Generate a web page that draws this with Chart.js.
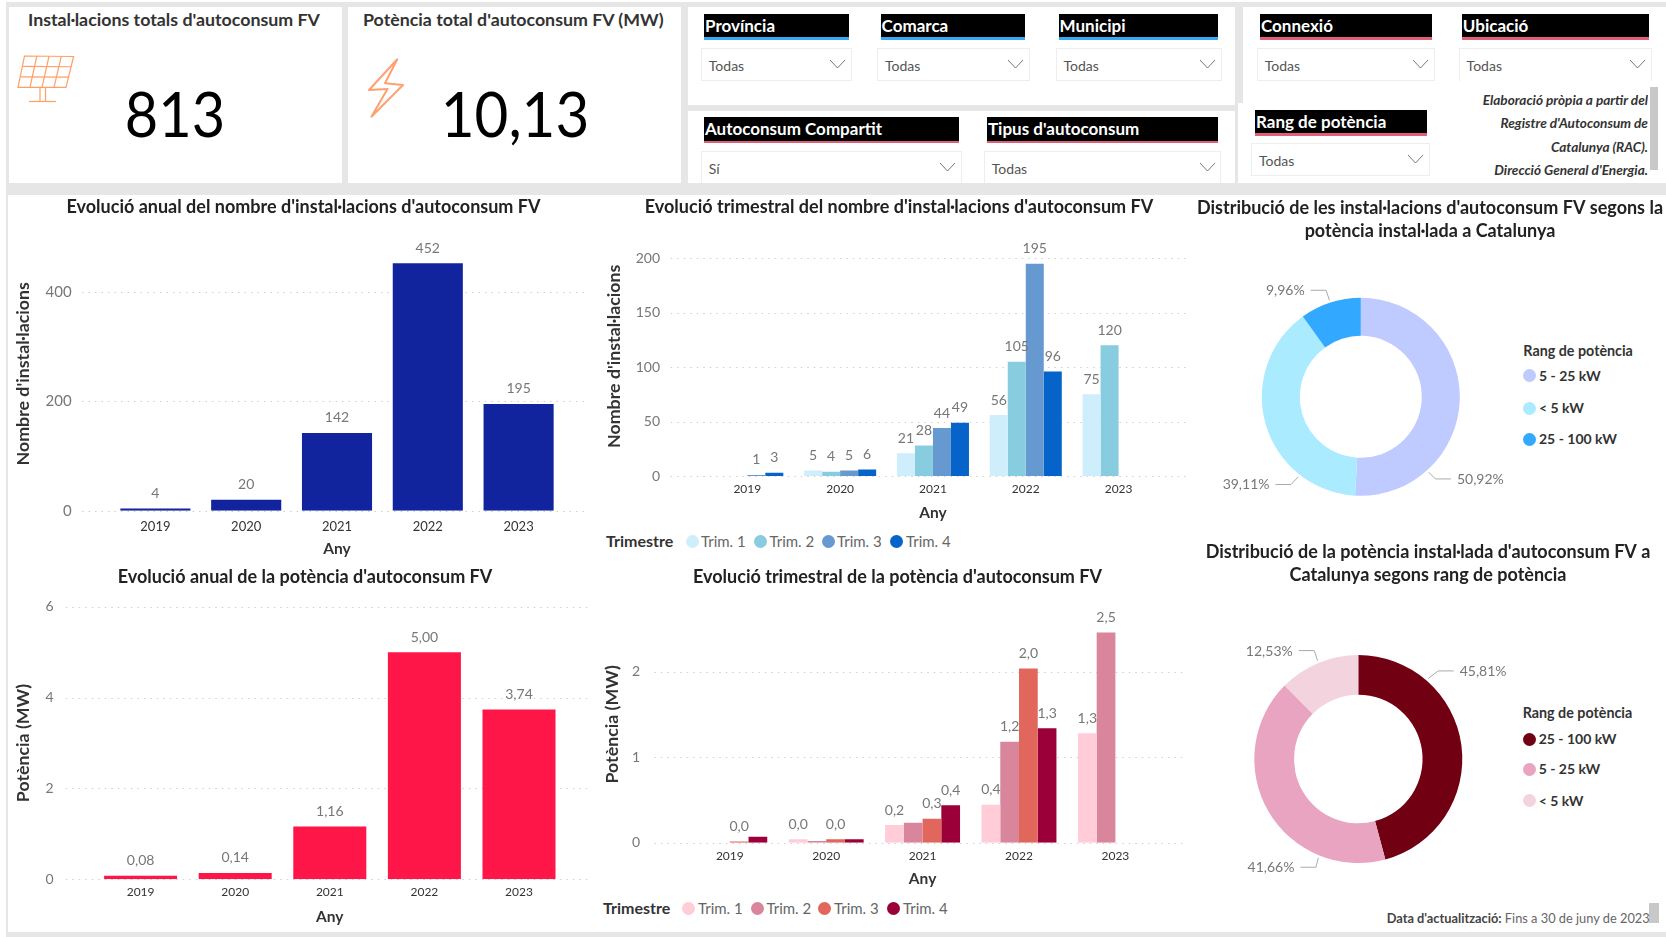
<!DOCTYPE html>
<html lang="ca">
<head>
<meta charset="utf-8">
<title>Autoconsum FV</title>
<script src="https://cdn.jsdelivr.net/npm/chart.js@4/dist/chart.umd.min.js"></script>
<style>
html,body{margin:0;padding:0;width:1666px;height:937px;overflow:hidden;background:#fff;font-family:Lato,"Open Sans",sans-serif}
.a{position:absolute}
.t{position:absolute;white-space:nowrap;line-height:1}
canvas{position:absolute}
</style>
</head>
<body>
<div id="page" class="a" style="left:0;top:0;width:1666px;height:937px"></div>
<script>
const years = ['2019','2020','2021','2022','2023'];
const annualCount = [4,20,142,452,195];
const annualPower = [0.08,0.14,1.16,5.00,3.74];
const quarters = ['Trim. 1','Trim. 2','Trim. 3','Trim. 4'];
const countQ1 = [null,5,21,56,75];
const countQ2 = [null,4,28,105,120];
const countQ3 = [1,5,44,195,null];
const countQ4 = [3,6,49,96,null];
const powerQ1 = [null,0.04,0.207,0.445,1.28];
const powerQ2 = [null,0.02,0.234,1.18,2.46];
const powerQ3 = [0.015,0.04,0.28,2.04,null];
const powerQ4 = [0.07,0.04,0.437,1.34,null];
const powerLabelQ1 = [false,true,true,true,true];
const powerLabelQ2 = [false,false,false,true,true];
const powerLabelQ3 = [true,true,true,true,false];
const powerLabelQ4 = [false,false,true,true,false];
const shareCountLabels = ['5 - 25 kW','< 5 kW','25 - 100 kW'];
const shareCountValues = [50.92,39.11,9.96];
const sharePowerLabels = ['25 - 100 kW','5 - 25 kW','< 5 kW'];
const sharePowerValues = [45.81,41.66,12.53];
const slicerBlue = ['Província','Comarca','Municipi'];
const slicerPink = ['Connexió','Ubicació','Autoconsum Compartit',"Tipus d'autoconsum",'Rang de potència'];

const FONT = 'Lato, "Open Sans", sans-serif';
const page = document.getElementById('page');
function box(x,y,w,h,css){const d=document.createElement('div');d.className='a';
  d.style.cssText=`left:${x}px;top:${y}px;width:${w}px;height:${h}px;${css||''}`;page.appendChild(d);return d;}
function text(x,cy,s,css,right){const d=document.createElement('div');d.className='t';
  d.style.cssText=(right?`right:${1666-x}px;`:`left:${x}px;`)+`top:${cy}px;transform:translateY(-50%);${css||''}`;
  d.textContent=s;page.appendChild(d);return d;}

/* page background and panels */
box(6,2,1660,935,'background:#e6e6e6');
[[9,7,332.5,176],[348,7,333,176],[687.5,7,547.5,98],[687.5,110.7,547.5,72],[1243,7,423,96],[1238,103,428,80],[8,195,1658,737]]
  .forEach(r=>box(r[0],r[1],r[2],r[3],'background:#fff'));

/* KPI cards */
const kpiTitle='font-size:17.8px;font-weight:700;color:#333';
text(28,19.5,"Instal·lacions totals d'autoconsum FV",kpiTitle);
text(363,19.5,"Potència total d'autoconsum FV (MW)",kpiTitle);
text(174.5,113,'813','font-size:62px;color:#000;transform:translate(-50%,-50%) scaleX(.93)');
text(515,113,'10,13','font-size:62px;color:#000;transform:translate(-50%,-50%) scaleX(.94)');

/* slicers */
function slicer(name,hx,hy,hw,bar,bx,by,bw,bh,val,noBottom){
  box(hx,hy,hw,23.3,'background:#000');
  box(hx,hy+23.3,hw,2.7,'background:'+bar);
  text(hx+1,hy+11,name,'font-size:17px;font-weight:700;color:#fff');
  box(bx,by,bw,bh,'box-sizing:border-box;border:1.5px solid #eee;'+(noBottom?'border-bottom:0;':''));
  text(bx+8,by+18,val,'font-size:14px;color:#555');
  const s=document.createElementNS('http://www.w3.org/2000/svg','svg');
  s.setAttribute('class','a');s.setAttribute('width','18');s.setAttribute('height','11');
  s.style.cssText=`left:${bx+bw-23}px;top:${by+11}px`;
  s.innerHTML='<polyline points="1,1 8.5,9 16,1" fill="none" stroke="#777" stroke-width="1"/>';
  page.appendChild(s);
}
const blueBar='#3aa8f0', pinkBar='#e0607a';
slicer(slicerBlue[0],704,14,145,blueBar,700.8,48.3,151.5,32.4,'Todas');
slicer(slicerBlue[1],880.6,14,144.4,blueBar,877,48.3,152.7,32.4,'Todas');
slicer(slicerBlue[2],1058.6,14,159.4,blueBar,1055.5,48.3,166,32.4,'Todas');
slicer(slicerPink[0],1260,14,171.6,pinkBar,1256.7,48.3,178,32.4,'Todas');
slicer(slicerPink[1],1461.8,14,186.8,pinkBar,1458.6,48.3,193,32.4,'Todas',true);
slicer(slicerPink[2],704,117.3,255,pinkBar,700.8,150.7,261,32,'Sí',true);
slicer(slicerPink[3],987,117.3,230.7,pinkBar,983.8,150.7,237.7,32,'Todas',true);
slicer(slicerPink[4],1255,110,171.5,pinkBar,1251,143.3,178.7,32.7,'Todas');

/* source note */
const note=box(1440,84,208,92.5,'overflow:hidden');
["Elaboració pròpia a partir del","Registre d'Autoconsum de","Catalunya (RAC).","Direcció General d'Energia."].forEach((l,i)=>{
  const d=document.createElement('div');d.className='t';
  d.style.cssText=`right:0;top:${[17,40,64,87][i]}px;transform:translateY(-50%);font-size:13.6px;font-style:italic;font-weight:700;color:#333`;
  d.textContent=l;note.appendChild(d);
});
box(1650,86.7,8,83.3,'background:#c8c8c8');
box(1649.3,903,9.4,20,'background:#c8c8c8');

/* icons */
const icons=document.createElementNS('http://www.w3.org/2000/svg','svg');
icons.setAttribute('class','a');icons.setAttribute('width','1666');icons.setAttribute('height','200');
icons.style.cssText='left:0;top:0';
let g='<g fill="none" stroke="#ff9e66" stroke-width="1.2">';
g+='<polygon points="24.5,56 73.6,56.5 66,87.3 18,87.3"/>';
[0.25,0.5,0.75].forEach(f=>{g+=`<line x1="${24.5+49.1*f}" y1="56.2" x2="${18+48*f}" y2="87.3"/>`;});
[1/3,2/3].forEach(f=>{g+=`<line x1="${24.5-6.5*f}" y1="${56+31.3*f}" x2="${73.6-7.6*f}" y2="${56.5+30.8*f}"/>`;});
g+='<line x1="40" y1="87.3" x2="40" y2="101.5"/><line x1="45.5" y1="87.3" x2="45.5" y2="101.5"/><line x1="29" y1="101.5" x2="56" y2="101.5"/></g>';
g+='<polygon points="397.3,59.3 369,90 387.5,89 371.4,116.7 403,85 385,83.3" fill="none" stroke="#ffa070" stroke-width="2" stroke-linejoin="round"/>';
icons.innerHTML=g;page.appendChild(icons);

/* custom legends */
function quarterLegend(head,headX,cy,items){
  text(headX,cy,head,'font-size:16px;font-weight:700;color:#333');
  items.forEach(it=>{
    box(it[0]-6.5,cy-6.5,13,13,`border-radius:50%;background:${it[2]}`);
    text(it[1],cy,it[3],'font-size:15px;color:#666');
  });
}
function roundLegend(head,headX,headY,dotX,textX,ys,cols,labels){
  text(headX,headY,head,'font-size:14.3px;font-weight:700;color:#333');
  labels.forEach((l,i)=>{
    box(dotX-6.5,ys[i]-6.5,13,13,`border-radius:50%;background:${cols[i]}`);
    text(textX,ys[i],l,'font-size:14px;font-weight:700;color:#333');
  });
}
const countColors=['#cfeefb','#87cddf','#6699cf','#0563c9'];
const powerColors=['#ffccd8','#d9869c','#e1665b','#9b0039'];
const shareCountColors=['#bfcaff','#abebff','#33a8ff'];
const sharePowerColors=['#720013','#e8a4c0','#f3d4de'];
quarterLegend('Trimestre',606,541,[692,760,828,896.6].map((x,i)=>[x,[701,769.5,837,906][i],countColors[i],quarters[i]]));
quarterLegend('Trimestre',603,908.3,[688.4,757.3,824.6,893].map((x,i)=>[x,[698,766.5,834,903][i],powerColors[i],quarters[i]]));
roundLegend('Rang de potència',1523.3,350.7,1529.7,1539,[375.7,408,439],shareCountColors,shareCountLabels);
roundLegend('Rang de potència',1522.7,712.7,1529,1538.7,[739,769,800.7],sharePowerColors,sharePowerLabels);

/* footer */
const foot=text(1386.7,917.7,'','font-size:12.8px;color:#666');
foot.innerHTML="<b style='color:#444'>Data d'actualització:</b> Fins a 30 de juny de 2023";

/* plugins */
const fullTitle={id:'fullTitle',afterLayout(c){const t=c.titleBlock;if(t){t.left=0;t.right=c.width;t.width=c.width;}}};
const dottedGrid={id:'dottedGrid',beforeDatasetsDraw(c,a,o){
  if(!c.scales.y)return;const ctx=c.ctx;ctx.save();ctx.strokeStyle='#cfcfcf';ctx.lineWidth=1;ctx.setLineDash([1.5,5]);
  c.scales.y.ticks.forEach(t=>{const y=Math.round(c.scales.y.getPixelForValue(t.value))+0.5;
    ctx.beginPath();ctx.moveTo(o.from,y);ctx.lineTo(o.to,y);ctx.stroke();});
  ctx.restore();}};
const valueLabels={id:'valueLabels',afterDatasetsDraw(c,a,o){
  if(!o.format)return;const ctx=c.ctx;ctx.save();ctx.font=`${o.size||14}px ${FONT}`;ctx.fillStyle='#777';
  ctx.textAlign='center';ctx.textBaseline='middle';
  c.data.datasets.forEach((ds,di)=>{c.getDatasetMeta(di).data.forEach((el,i)=>{
    const v=ds.data[i];if(v===null||v===undefined)return;
    if(ds.labelMask&&!ds.labelMask[i])return;
    ctx.fillText(o.format(v),el.x,el.y-15);});});
  ctx.restore();}};
const leaderLabels={id:'leaderLabels',afterDatasetsDraw(c,a,o){
  if(!o.angles)return;const ctx=c.ctx;const arc=c.getDatasetMeta(0).data[0];
  const cx=arc.x,cy=arc.y,r=arc.outerRadius;ctx.save();ctx.font=`14px ${FONT}`;ctx.textBaseline='middle';
  o.angles.forEach((deg,i)=>{
    const th=deg*Math.PI/180,dx=Math.sin(th),dy=-Math.cos(th),sgn=dx>=0?1:-1;
    const x0=cx+(r+2.5)*dx,y0=cy+(r+2.5)*dy,x1=x0+(o.elbowX[i])*sgn,y1=y0+(o.elbowY[i]);
    const x2=x1+15.5*sgn;
    ctx.strokeStyle='#aaa';ctx.lineWidth=1;ctx.beginPath();ctx.moveTo(x0,y0);ctx.lineTo(x1,y1);ctx.lineTo(x2,y1);ctx.stroke();
    ctx.fillStyle='#777';ctx.textAlign=sgn>0?'left':'right';
    ctx.fillText(c.data.datasets[0].data[i].toFixed(2).replace('.',',')+'%',x2+sgn*6,y1+0.5);
  });ctx.restore();}};

const TITLE_LH=23;
function titleOpts(str,T,titleY,areaT,size){
  const lines=Array.isArray(str)?str.length:1;
  const ptop=titleY-T-TITLE_LH/2;
  return {display:true,text:str,color:'#222',font:{family:FONT,size:size||18,weight:'700',lineHeight:TITLE_LH/(size||18)},
    padding:{top:ptop,bottom:areaT-T-ptop-TITLE_LH*lines}};
}
function barChart(c){
  const cv=document.createElement('canvas');cv.width=c.W;cv.height=c.H;
  cv.style.left=c.L+'px';cv.style.top=c.T+'px';page.appendChild(cv);
  const axisLH=18;
  return new Chart(cv,{type:'bar',data:{labels:years,datasets:c.datasets},plugins:[fullTitle,dottedGrid,valueLabels],
    options:{responsive:false,animation:false,
      layout:{padding:{left:0,top:0,bottom:0,right:c.L+c.W-c.areaR}},
      plugins:{legend:{display:false},tooltip:{enabled:false},
        title:titleOpts(c.title,c.T,c.titleY,c.areaT),
        dottedGrid:{from:c.gridL-c.L,to:c.gridR-c.L},
        valueLabels:{format:c.format,size:14}},
      scales:{
        x:{grid:{display:false,drawTicks:false},border:{display:false},
          ticks:{color:'#333',autoSkip:false,maxRotation:0,padding:c.xTickPad,font:{family:FONT,size:c.xTickSize}},
          title:{display:true,text:'Any',color:'#333',font:{family:FONT,size:15.5,weight:'700',lineHeight:axisLH/15.5},
            padding:{top:0,bottom:c.T+c.H-c.anyY-axisLH/2}},
          afterFit:s=>{s.height=c.T+c.H-c.areaB;}},
        y:{min:0,max:c.max,grid:{display:false,drawTicks:false},border:{display:false},
          ticks:{color:'#777',stepSize:c.step,includeBounds:false,padding:c.areaL-c.yTickRight,
            font:{family:FONT,size:c.yTickSize},callback:v=>String(v)},
          title:{display:true,text:c.yTitle,color:'#333',font:{family:FONT,size:17.8,weight:'700',lineHeight:axisLH/17.8},
            padding:{top:c.yTitleX-c.L-axisLH/2,bottom:0}},
          afterFit:s=>{s.width=c.areaL-c.L;s.paddingTop=0;s.paddingBottom=0;}}
      }}});
}
function donut(c){
  const cv=document.createElement('canvas');cv.width=c.W;cv.height=c.H;
  cv.style.left=c.L+'px';cv.style.top=c.T+'px';page.appendChild(cv);
  return new Chart(cv,{type:'doughnut',
    data:{labels:c.labels,datasets:[{data:c.values,backgroundColor:c.colors,borderWidth:0}]},
    plugins:[fullTitle,leaderLabels],
    options:{responsive:false,animation:false,cutout:c.cutout,rotation:0,
      layout:{padding:{left:c.cx-c.r-c.L,right:c.L+c.W-c.cx-c.r,top:0,bottom:c.T+c.H-c.cy-c.r}},
      plugins:{legend:{display:false},tooltip:{enabled:false},
        title:titleOpts(c.title,c.T,c.titleY,c.cy-c.r),
        leaderLabels:{angles:c.angles,elbowX:c.elbowX,elbowY:c.elbowY}}}});
}
const solid=(d,col,w)=>({data:d,backgroundColor:col,barPercentage:w,categoryPercentage:1,borderWidth:0});
const fmt2=v=>v.toFixed(2).replace('.',',');
const fmt1=v=>v.toFixed(1).replace('.',',');

barChart({L:8,T:195,W:591,H:365,areaL:110,areaR:564,areaT:236.9,areaB:510.7,gridL:82,gridR:585,
  title:"Evolució anual del nombre d'instal·lacions d'autoconsum FV",titleY:206.7,
  datasets:[solid(annualCount,'#12239e',0.772)],format:String,max:500,step:200,
  yTitle:"Nombre d'instal·lacions",yTitleX:23.7,yTickRight:71.6,yTickSize:15,xTickPad:8,xTickSize:13,anyY:549.3});

barChart({L:600,T:195,W:598,H:365,areaL:700.9,areaR:1165,areaT:236.5,areaB:476,gridL:670.8,gridR:1191,
  title:"Evolució trimestral del nombre d'instal·lacions d'autoconsum FV",titleY:207,
  datasets:[countQ1,countQ2,countQ3,countQ4].map((d,i)=>({label:quarters[i],data:d,backgroundColor:countColors[i],barPercentage:1,categoryPercentage:0.776,borderWidth:0})),
  format:String,max:220,step:50,
  yTitle:"Nombre d'instal·lacions",yTitleX:614.5,yTickRight:660,yTickSize:14,xTickPad:6,xTickSize:12,anyY:513});

barChart({L:8,T:560,W:594,H:372,areaL:93.3,areaR:566.3,areaT:606.7,areaB:879.3,gridL:65.8,gridR:591.3,
  title:"Evolució anual de la potència d'autoconsum FV",titleY:576.7,
  datasets:[solid(annualPower,'#ff1649',0.772)],format:fmt2,max:6,step:2,
  yTitle:"Potència (MW)",yTitleX:23.7,yTickRight:53.6,yTickSize:14,xTickPad:6,xTickSize:12,anyY:916.7});

const pMasks=[powerLabelQ1,powerLabelQ2,powerLabelQ3,powerLabelQ4];
barChart({L:598,T:560,W:599,H:372,areaL:681.6,areaR:1163.6,areaT:606,areaB:842.7,gridL:654.3,gridR:1187.4,
  title:"Evolució trimestral de la potència d'autoconsum FV",titleY:576.7,
  datasets:[powerQ1,powerQ2,powerQ3,powerQ4].map((d,i)=>({label:quarters[i],data:d,labelMask:pMasks[i],backgroundColor:powerColors[i],barPercentage:1,categoryPercentage:0.777,borderWidth:0})),
  format:fmt1,max:2.77,step:1,
  yTitle:"Potència (MW)",yTitleX:612,yTickRight:640,yTickSize:14,xTickPad:6,xTickSize:12,anyY:879.3});

donut({L:1195,T:195,W:470,H:335,cx:1360.8,cy:396.8,r:99,cutout:'61.6%',
  title:["Distribució de les instal·lacions d'autoconsum FV segons la","potència instal·lada a Catalunya"],titleY:207.7,
  labels:shareCountLabels,values:shareCountValues,colors:shareCountColors,
  angles:[138,218,342],elbowX:[6.7,7.3,3.3],elbowY:[6.7,7.7,-10]});
donut({L:1195,T:540,W:466,H:360,cx:1358.3,cy:759,r:104,cutout:'61.8%',
  title:["Distribució de la potència instal·lada d'autoconsum FV a","Catalunya segons rang de potència"],titleY:551.7,
  labels:sharePowerLabels,values:sharePowerValues,colors:sharePowerColors,
  angles:[41,202,337.5],elbowX:[10,2.5,3.3],elbowY:[-7.7,9.5,-10]});
</script>
</body>
</html>
